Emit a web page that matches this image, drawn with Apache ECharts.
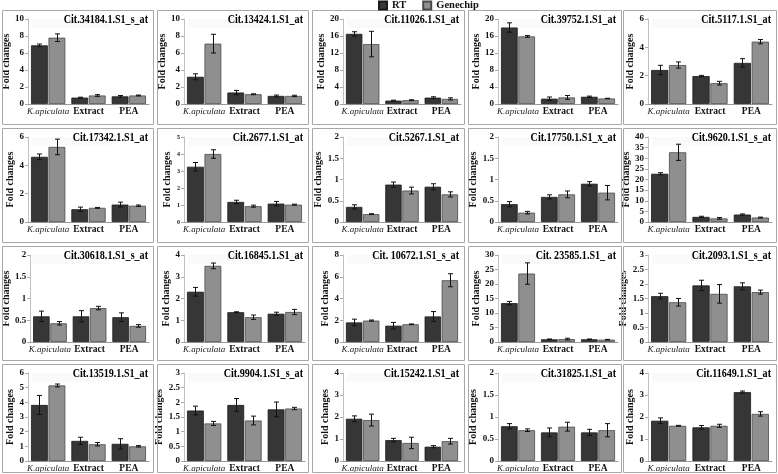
<!DOCTYPE html>
<html><head><meta charset="utf-8">
<script src="https://cdn.jsdelivr.net/npm/echarts@6/dist/echarts.min.js"></script>
<style>html,body{margin:0;padding:0;background:#fff}#c{width:778px;height:474px}</style>
</head><body><div id="c"></div>
<script>
const categories = ['K.apiculata', 'Extract', 'PEA'];
const seriesNames = ['RT', 'Genechip'];
const panelTitles = [
  'Cit.34184.1.S1_s_at', 'Cit.13424.1.S1_at', 'Cit.11026.1.S1_at', 'Cit.39752.1.S1_at', 'Cit.5117.1.S1_at',
  'Cit.17342.1.S1_at', 'Cit.2677.1.S1_at', 'Cit.5267.1.S1_at', 'Cit.17750.1.S1_x_at', 'Cit.9620.1.S1_s_at',
  'Cit.30618.1.S1_s_at', 'Cit.16845.1.S1_at', 'Cit. 10672.1.S1_s_at', 'Cit. 23585.1.S1_ at', 'Cit.2093.1.S1_s_at',
  'Cit.13519.1.S1_at', 'Cit.9904.1.S1_s_at', 'Cit.15242.1.S1_at', 'Cit.31825.1.S1_at', 'Cit.11649.1.S1_at'
];
const yMax  = [10, 10, 20, 20, 6,   6, 5, 2, 2, 40,   2, 4, 8, 30, 3,   6, 3, 4, 2, 4];
const yStep = [2, 2, 4, 4, 2,   2, 1, 0.5, 0.5, 5,   0.5, 1, 2, 5, 0.5,   1, 0.5, 1, 0.5, 1];

const rtValues = [
  [6.9, 0.75, 0.9], [3.2, 1.35, 0.95], [16.5, 0.8, 1.5], [18.0, 1.25, 1.7], [2.4, 1.97, 2.9],
  [4.6, 0.9, 1.23], [3.25, 1.18, 1.08], [0.355, 0.88, 0.83], [0.42, 0.59, 0.9], [22.7, 2.4, 3.5],
  [0.59, 0.59, 0.57], [2.31, 1.37, 1.3], [1.8, 1.5, 2.35], [13.4, 0.93, 0.93], [1.58, 1.95, 1.92],
  [3.82, 1.37, 1.17], [1.72, 1.91, 1.76], [1.92, 0.95, 0.65], [0.79, 0.65, 0.65], [1.83, 1.53, 3.13]
];
const rtErrors = [
  [0.15, 0.05, 0.1], [0.35, 0.25, 0.1], [0.5, 0.1, 0.2], [1.1, 0.4, 0.15], [0.33, 0.05, 0.3],
  [0.2, 0.15, 0.17], [0.25, 0.1, 0.13], [0.05, 0.06, 0.07], [0.06, 0.05, 0.05], [0.5, 0.3, 0.3],
  [0.12, 0.13, 0.1], [0.2, 0.02, 0.07], [0.3, 0.3, 0.45], [0.6, 0.1, 0.1], [0.1, 0.18, 0.12],
  [0.65, 0.25, 0.35], [0.15, 0.22, 0.25], [0.13, 0.08, 0.05], [0.06, 0.1, 0.07], [0.13, 0.08, 0.05]
];
const geneValues = [
  [7.8, 1.0, 1.0], [7.1, 1.15, 0.95], [14.1, 0.9, 1.2], [15.9, 1.55, 1.3], [2.75, 1.47, 4.4],
  [5.3, 1.0, 1.15], [4.0, 0.93, 1.02], [0.185, 0.74, 0.65], [0.22, 0.65, 0.69], [32.8, 1.7, 2.1],
  [0.43, 0.78, 0.37], [3.5, 1.14, 1.38], [1.97, 1.63, 5.68], [23.6, 1.0, 0.8], [1.37, 1.66, 1.72],
  [5.15, 1.14, 1.0], [1.28, 1.38, 1.79], [1.86, 0.82, 0.9], [0.7, 0.78, 0.7], [1.6, 1.6, 2.14]
];
const geneErrors = [
  [0.45, 0.1, 0.05], [1.1, 0.05, 0.08], [3.0, 0.1, 0.25], [0.2, 0.45, 0.05], [0.22, 0.13, 0.15],
  [0.55, 0.03, 0.05], [0.25, 0.06, 0.03], [0.01, 0.08, 0.06], [0.03, 0.08, 0.17], [3.8, 0.4, 0.2],
  [0.04, 0.04, 0.03], [0.13, 0.1, 0.12], [0.05, 0.03, 0.6], [3.7, 0.3, 0.1], [0.13, 0.32, 0.07],
  [0.1, 0.12, 0.05], [0.07, 0.15, 0.04], [0.27, 0.26, 0.13], [0.03, 0.1, 0.15], [0.02, 0.07, 0.1]
];

// layout
const colBox = [[2, 153], [157, 308], [312, 464], [468, 621], [623, 776]];
const colPlot = [[28, 149], [184, 305], [343, 461], [498, 618], [648, 772]];
const rowBox = [[10, 124], [128, 242], [246, 360], [364, 472]];
const rowPlot = [[19, 104], [137, 222], [255, 342], [373, 461]];
const FONT = "'Liberation Serif','Times New Roman',serif";
const CAT_GAP = 0.15, BAR_GAP = 0.04;

const grids = [], xAxes = [], yAxes = [], series = [], graphics = [];
panelTitles.forEach((t, p) => {
  const r = Math.floor(p / 5), c = p % 5;
  const [bl, br] = colBox[c], [bt, bb] = rowBox[r];
  const [pl, pr] = colPlot[c], [pt, pb] = rowPlot[r];
  graphics.push({type: 'rect', shape: {x: bl + 0.5, y: bt + 0.5, width: br - bl, height: bb - bt},
    style: {fill: 'none', stroke: '#a8a8a8', lineWidth: 1}, z: 1});
  graphics.push({type: 'rect', shape: {x: pl + 4, y: pt, width: 78, height: 9},
    style: {fill: '#fafafa'}, z: 0});
  graphics.push({type: 'text', x: br - 5, y: pt + 0.5, scaleX: 0.84, z: 5,
    style: {text: t, font: "bold 12px " + FONT, fill: '#000', align: 'right', verticalAlign: 'middle'}});
  grids.push({left: pl, top: pt, width: pr - pl, height: pb - pt});
  xAxes.push({type: 'category', gridIndex: p, data: categories,
    axisLine: {lineStyle: {color: '#999'}}, axisTick: {lineStyle: {color: '#999'}, length: 3},
    axisLabel: {margin: 3, interval: 0, fontFamily: FONT,
      formatter: (v, i) => i === 0 ? '{i|' + v + '}' : '{b|' + v + '}',
      rich: {i: {fontFamily: FONT, fontStyle: 'italic', fontSize: 9, color: '#222'},
             b: {fontFamily: FONT, fontWeight: 'bold', fontSize: 9.5, color: '#111'}}}});
  yAxes.push({type: 'value', gridIndex: p, min: 0, max: yMax[p], interval: yStep[p],
    name: 'Fold changes', nameLocation: 'middle', nameGap: 12,
    nameTextStyle: {fontFamily: FONT, fontWeight: 'bold', fontSize: 10, color: '#111'},
    axisLine: {show: true, lineStyle: {color: '#c0c0c0'}},
    axisTick: {show: true, length: 3, lineStyle: {color: '#aaa'}},
    splitLine: {show: false},
    axisLabel: {margin: 4, fontFamily: FONT, fontWeight: 'bold', fontSize: p === 6 ? 6 : 9, color: '#111'}});
  series.push({name: seriesNames[0], type: 'bar', xAxisIndex: p, yAxisIndex: p, data: rtValues[p],
    barCategoryGap: (CAT_GAP * 100) + '%', barGap: (BAR_GAP * 100) + '%',
    itemStyle: {color: '#363636', borderColor: '#1a1a1a', borderWidth: 0.8}});
  series.push({name: seriesNames[1], type: 'bar', xAxisIndex: p, yAxisIndex: p, data: geneValues[p],
    barCategoryGap: (CAT_GAP * 100) + '%', barGap: (BAR_GAP * 100) + '%',
    itemStyle: {color: '#8f8f8f', borderColor: '#4a4a4a', borderWidth: 0.8}});
  const errData = [];
  for (let i = 0; i < 3; i++) {
    errData.push([i, rtValues[p][i], rtErrors[p][i], 0]);
    errData.push([i, geneValues[p][i], geneErrors[p][i], 1]);
  }
  series.push({type: 'custom', xAxisIndex: p, yAxisIndex: p, data: errData, z: 10, silent: true,
    renderItem: (params, api) => {
      const cat = api.value(0), v = api.value(1), e = api.value(2), s = api.value(3);
      const catW = api.size([1, 0])[0];
      const w = catW * (1 - CAT_GAP) / (2 + BAR_GAP);
      const off = (s === 0 ? -1 : 1) * w * (1 + BAR_GAP) / 2;
      const a = api.coord([cat, v + e]), b = api.coord([cat, v - e]);
      const x = Math.round(a[0] + off) + 0.5, cap = 2.5;
      const st = {stroke: '#111', lineWidth: 1};
      return {type: 'group', children: [
        {type: 'line', shape: {x1: x, y1: a[1], x2: x, y2: b[1]}, style: st},
        {type: 'line', shape: {x1: x - cap, y1: a[1], x2: x + cap, y2: a[1]}, style: st},
        {type: 'line', shape: {x1: x - cap, y1: b[1], x2: x + cap, y2: b[1]}, style: st}
      ]};
    }});
});

const chart = echarts.init(document.getElementById('c'), null, {renderer: 'canvas'});
chart.setOption({
  animation: false,
  backgroundColor: '#fff',
  legend: {data: seriesNames, top: 0, left: 378, itemWidth: 8, itemHeight: 8, itemGap: 16,
    icon: 'rect', textStyle: {fontFamily: FONT, fontWeight: 'bold', fontSize: 10.5, color: '#111'}, padding: 0},
  grid: grids, xAxis: xAxes, yAxis: yAxes, series: series, graphic: graphics
});
</script></body></html>
